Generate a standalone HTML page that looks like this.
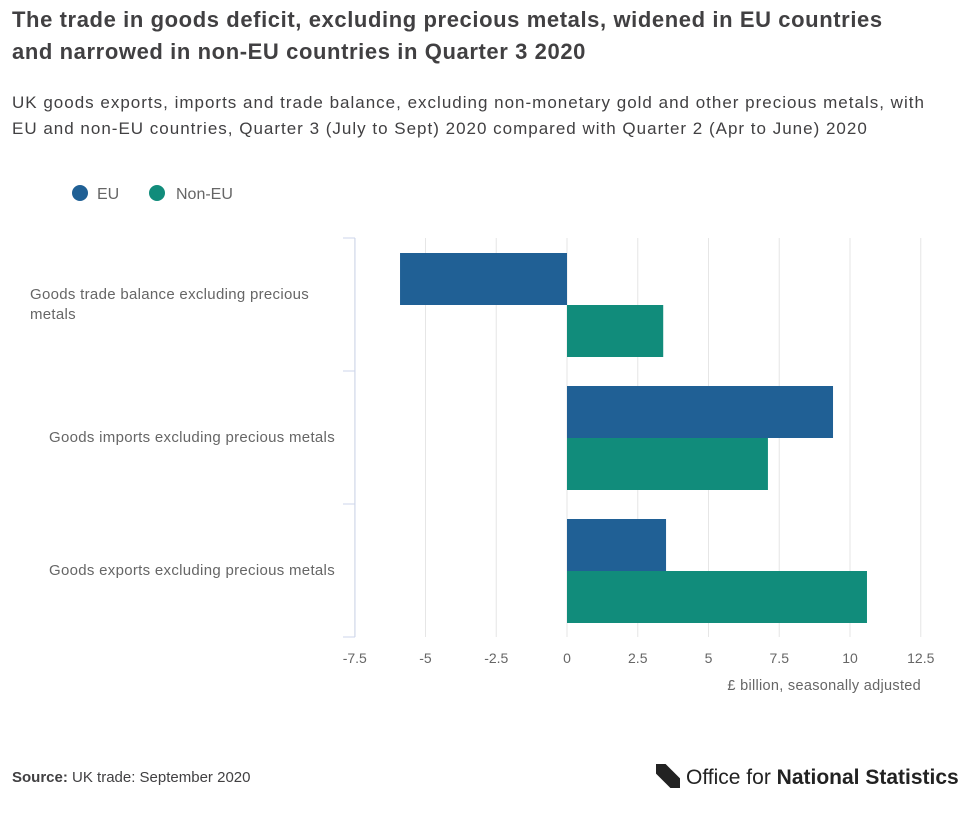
<!DOCTYPE html>
<html><head><meta charset="utf-8"><style>
body{margin:0;background:#fff;font-family:"Liberation Sans",sans-serif;width:966px;height:822px;overflow:hidden;position:relative}
.t{position:absolute;left:12px;top:4px;font-size:22px;font-weight:bold;color:#414042;line-height:32px;width:905px;letter-spacing:0.6px}
.s{position:absolute;left:12px;top:90px;font-size:17px;color:#414042;line-height:26px;width:942px;letter-spacing:1px}
.src{position:absolute;left:12px;top:769px;font-size:15px;color:#414042}
.logo{position:absolute;left:656px;top:764px;font-size:21px;color:#222}
</style></head><body>
<div class="t">The trade in goods deficit, excluding precious metals, widened in EU countries and narrowed in non-EU countries in Quarter 3 2020</div>
<div class="s">UK goods exports, imports and trade balance, excluding non-monetary gold and other precious metals, with EU and non-EU countries, Quarter 3 (July to Sept) 2020 compared with Quarter 2 (Apr to June) 2020</div>
<svg id="c" width="966" height="822" style="position:absolute;left:0;top:0"></svg>
<div class="src"><b>Source:</b> UK trade: September 2020</div>
<div class="logo"><span style="display:inline-block;width:24px;height:24px;background:#222;vertical-align:-4px;margin-right:6px;clip-path:polygon(0 0,40% 0,100% 60%,100% 100%,60% 100%,0 40%)"></span>Office for <b>National Statistics</b></div>
<script>
const categories=["Goods trade balance excluding precious metals","Goods imports excluding precious metals","Goods exports excluding precious metals"];
const euValues=[-5.9,9.4,3.5];
const nonEuValues=[3.4,7.1,10.6];
const ticks=[-7.5,-5,-2.5,0,2.5,5,7.5,10,12.5];
const tickLabels=["-7.5","-5","-2.5","0","2.5","5","7.5","10","12.5"];
const svg=document.getElementById('c');const NS="http://www.w3.org/2000/svg";
function el(t,a,txt){const e=document.createElementNS(NS,t);for(const k in a)e.setAttribute(k,a[k]);if(txt!=null)e.textContent=txt;svg.appendChild(e);return e;}
const x=v=>567+(v)*(921-355)/20;
const plotTop=238,band=133;
ticks.forEach((v,i)=>{
 const g=el('line',{x1:x(v),x2:x(v),y1:plotTop,y2:637,stroke:'#e6e6e6'});
 
 
 const t=el('text',{x:x(v),y:663,'text-anchor':'middle','font-size':14,fill:'#666'},tickLabels[i]);
 
 
});
const ax=el('line',{x1:355,x2:355,y1:plotTop,y2:637,stroke:'#ccd6eb'});


for(let i=0;i<=3;i++){const tk=el('line',{x1:343,x2:355,y1:plotTop+i*band,y2:plotTop+i*band,stroke:'#ccd6eb'});
 
 }
categories.forEach((c,i)=>{
 const y0=plotTop+i*band;
 const bw=52;
 [[euValues[i],'#206095',15],[nonEuValues[i],'#118c7b',67]].forEach(([v,col,off],j)=>{
  const r=el('rect',{x:Math.min(x(0),x(v)),y:y0+off,width:Math.abs(x(v)-x(0)),height:bw,fill:col});
  
  
 });
 let lines=[c];
 if(i==0)lines=["Goods trade balance excluding precious","metals"];
 lines.forEach((l,k)=>{
  const t=el('text',{x:i==0?30:335,y:(i==0?y0+61:y0+71)+k*20,'text-anchor':i==0?'start':'end','font-size':15,'letter-spacing':0.3,fill:'#666'},l);
  
  
 });
});
const xt=el('text',{x:921,y:690,'text-anchor':'end','font-size':14.5,'letter-spacing':0.3,fill:'#666'},"£ billion, seasonally adjusted");


[['EU','#206095',80,97],['Non-EU','#118c7b',157,176]].forEach(([n,col,cx,tx])=>{
 const d=el('circle',{cx:cx,cy:193,r:8,fill:col});
 
 
 const t=el('text',{x:tx,y:199,'font-size':16,fill:'#666'},n);
 
 
});
</script>
</body></html>
